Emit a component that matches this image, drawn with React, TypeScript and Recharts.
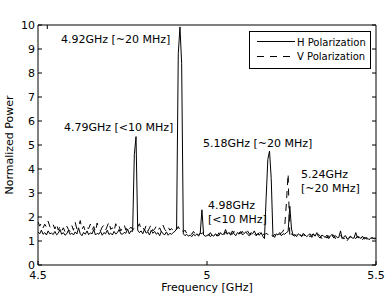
import React from "react";
import {
  LineChart,
  Line,
  XAxis,
  YAxis,
  Legend,
  ReferenceDot,
  Label,
} from "recharts";

const FONT = "DejaVu Sans";

// frequency grid in GHz (5 MHz step)
const FREQ = [
  4.5, 4.505, 4.51, 4.515, 4.52, 4.525, 4.53, 4.535, 4.54, 4.545,
  4.55, 4.555, 4.56, 4.565, 4.57, 4.575, 4.58, 4.585, 4.59, 4.595,
  4.6, 4.605, 4.61, 4.615, 4.62, 4.625, 4.63, 4.635, 4.64, 4.645,
  4.65, 4.655, 4.66, 4.665, 4.67, 4.675, 4.68, 4.685, 4.69, 4.695,
  4.7, 4.705, 4.71, 4.715, 4.72, 4.725, 4.73, 4.735, 4.74, 4.745,
  4.75, 4.755, 4.76, 4.765, 4.77, 4.775, 4.78, 4.785, 4.79, 4.795,
  4.8, 4.805, 4.81, 4.815, 4.82, 4.825, 4.83, 4.835, 4.84, 4.845,
  4.85, 4.855, 4.86, 4.865, 4.87, 4.875, 4.88, 4.885, 4.89, 4.895,
  4.9, 4.905, 4.91, 4.915, 4.92, 4.925, 4.93, 4.935, 4.94, 4.945,
  4.95, 4.955, 4.96, 4.965, 4.97, 4.975, 4.98, 4.985, 4.99, 4.995,
  5.0, 5.005, 5.01, 5.015, 5.02, 5.025, 5.03, 5.035, 5.04, 5.045,
  5.05, 5.055, 5.06, 5.065, 5.07, 5.075, 5.08, 5.085, 5.09, 5.095,
  5.1, 5.105, 5.11, 5.115, 5.12, 5.125, 5.13, 5.135, 5.14, 5.145,
  5.15, 5.155, 5.16, 5.165, 5.17, 5.175, 5.18, 5.185, 5.19, 5.195,
  5.2, 5.205, 5.21, 5.215, 5.22, 5.225, 5.23, 5.235, 5.24, 5.245,
  5.25, 5.255, 5.26, 5.265, 5.27, 5.275, 5.28, 5.285, 5.29, 5.295,
  5.3, 5.305, 5.31, 5.315, 5.32, 5.325, 5.33, 5.335, 5.34, 5.345,
  5.35, 5.355, 5.36, 5.365, 5.37, 5.375, 5.38, 5.385, 5.39, 5.395,
  5.4, 5.405, 5.41, 5.415, 5.42, 5.425, 5.43, 5.435, 5.44, 5.445,
  5.45, 5.455, 5.46, 5.465, 5.47, 5.475, 5.48, 5.485, 5.49, 5.495,
  5.5,
];

const H_POWER = [
  1.38, 1.3, 1.45, 1.28, 1.35, 1.25, 1.42, 1.3, 1.33, 1.27,
  1.4, 1.26, 1.32, 1.48, 1.28, 1.35, 1.24, 1.3, 1.45, 1.27,
  1.33, 1.25, 1.38, 1.29, 1.55, 1.3, 1.22, 1.36, 1.28, 1.42,
  1.26, 1.34, 1.3, 1.48, 1.25, 1.32, 1.28, 1.4, 1.24, 1.35,
  1.3, 1.45, 1.27, 1.33, 1.25, 1.4, 1.29, 1.35, 1.48, 1.3,
  1.28, 1.36, 1.32, 1.5, 1.3, 1.42, 1.4, 4.6, 5.35, 1.45,
  1.35, 1.42, 1.3, 1.48, 1.33, 1.38, 1.25, 1.45, 1.32, 1.4,
  1.28, 1.35, 1.22, 1.4, 1.3, 1.26, 1.38, 1.24, 1.32, 1.28,
  1.35, 1.4, 1.5, 8.8, 9.92, 8.4, 1.3, 1.22, 1.28, 1.2,
  1.25, 1.18, 1.28, 1.22, 1.3, 1.2, 1.32, 2.3, 1.25, 1.2,
  1.22, 1.28, 1.18, 1.25, 1.2, 1.3, 1.24, 1.22, 1.35, 1.26,
  1.3, 1.48, 1.28, 1.36, 1.24, 1.42, 1.3, 1.22, 1.35, 1.28,
  1.4, 1.25, 1.32, 1.38, 1.28, 1.22, 1.35, 1.3, 1.42, 1.26,
  1.3, 1.24, 1.35, 1.2, 1.1, 2.8, 4.4, 4.75, 3.6, 1.25,
  1.15, 1.3, 1.25, 1.35, 1.22, 1.3, 1.28, 1.35, 1.4, 2.45,
  1.5, 1.22, 1.28, 1.18, 1.3, 1.24, 1.2, 1.32, 1.25, 1.18,
  1.25, 1.3, 1.15, 1.28, 1.2, 1.35, 1.18, 1.12, 1.25, 1.2,
  1.15, 1.25, 1.1, 1.2, 1.28, 1.12, 1.22, 1.15, 1.15, 1.42,
  1.1, 1.18, 1.22, 1.08, 1.15, 1.2, 1.12, 1.12, 1.35, 1.15,
  1.18, 1.1, 1.2, 1.08, 1.15, 1.12, 1.05, 1.14, 1.1, 1.12,
  1.1,
];

const V_POWER = [
  1.8, 1.62, 1.75, 1.55, 1.7, 1.58, 1.82, 1.6, 1.52, 1.68,
  1.5, 1.72, 1.45, 1.6, 1.42, 1.55, 1.38, 1.62, 1.48, 1.4,
  1.65, 1.45, 1.78, 1.5, 1.58, 1.85, 1.48, 1.62, 1.4, 1.55,
  1.52, 1.7, 1.45, 1.6, 1.38, 1.75, 1.5, 1.42, 1.58, 1.66,
  1.45, 1.62, 1.8, 1.48, 1.55, 1.4, 1.72, 1.5, 1.6, 1.42,
  1.55, 1.68, 1.45, 1.62, 1.5, 1.58, 1.48, 1.52, 1.45, 1.6,
  1.72, 1.5, 1.58, 1.45, 1.65, 1.4, 1.55, 1.68, 1.42, 1.5,
  1.62, 1.45, 1.55, 1.38, 1.66, 1.48, 1.4, 1.58, 1.45, 1.52,
  1.42, 1.55, 1.48, 1.6, 1.45, 1.52, 1.38, 1.45, 1.32, 1.4,
  1.35, 1.28, 1.4, 1.3, 1.36, 1.25, 1.33, 1.3, 1.38, 1.27,
  1.3, 1.24, 1.35, 1.22, 1.32, 1.28, 1.2, 1.34, 1.25, 1.3,
  1.25, 1.38, 1.3, 1.45, 1.32, 1.28, 1.4, 1.3, 1.26, 1.36,
  1.32, 1.4, 1.26, 1.35, 1.42, 1.3, 1.25, 1.38, 1.3, 1.22,
  1.28, 1.35, 1.22, 1.3, 1.25, 1.32, 1.28, 1.2, 1.3, 1.18,
  1.28, 1.2, 1.32, 1.25, 1.35, 1.4, 1.6, 2.6, 3.8, 1.15,
  1.3, 1.25, 1.2, 1.28, 1.22, 1.3, 1.18, 1.26, 1.22, 1.3,
  1.22, 1.18, 1.25, 1.3, 1.15, 1.22, 1.28, 1.2, 1.1, 1.24,
  1.2, 1.12, 1.22, 1.05, 1.18, 1.25, 1.1, 1.2, 1.15, 1.22,
  1.15, 1.08, 1.2, 1.02, 1.12, 1.18, 1.05, 1.15, 1.1, 1.2,
  1.12, 1.2, 1.05, 1.15, 1.1, 1.08, 1.18, 1.1, 1.15, 1.08,
  1.12,
];

const X_TICKS = [4.5, 5, 5.5];
const Y_TICKS = [0, 1, 2, 3, 4, 5, 6, 7, 8, 9, 10];

// annotation text, anchored at the start of the first line (GHz, power)
const NOTES = [
  { f: 4.568, p: 9.42, lines: ["4.92GHz [~20 MHz]"] },
  { f: 4.577, p: 5.75, lines: ["4.79GHz [<10 MHz]"] },
  { f: 4.988, p: 5.1, lines: ["5.18GHz [~20 MHz]"] },
  { f: 5.003, p: 2.5, lines: ["4.98GHz", "[<10 MHz]"] },
  { f: 5.278, p: 3.79, lines: ["5.24GHz", "[~20 MHz]"] },
];

const data = FREQ.map((f, i) => ({ f, h: H_POWER[i], v: V_POWER[i] }));

const tickStyle = { fill: "#000", fontSize: 11, fontFamily: FONT };

function LegendBox() {
  return (
    <svg width={122} height={38} style={{ display: "block" }}>
      <rect x={0.5} y={0.5} width={121} height={37} fill="#fff" stroke="#000" />
      <line x1={8} x2={46} y1={10.5} y2={10.5} stroke="#000" />
      <line x1={8} x2={46} y1={25.5} y2={25.5} stroke="#000" strokeDasharray="7 6" />
      <text x={48} y={11} dominantBaseline="central" fontSize={10} fontFamily={FONT}>
        H Polarization
      </text>
      <text x={48} y={25} dominantBaseline="central" fontSize={10} fontFamily={FONT}>
        V Polarization
      </text>
    </svg>
  );
}

export default function App() {
  return (
    <div style={{ position: "absolute", left: 0, top: 0, background: "#fff" }}>
      <LineChart
        width={390}
        height={298}
        data={data}
        margin={{ top: 24, right: 13, bottom: 15, left: 18 }}
      >
        <XAxis
          type="number"
          dataKey="f"
          domain={[4.5, 5.5]}
          ticks={X_TICKS}
          allowDataOverflow
          height={18}
          tickSize={-4}
          tickMargin={10}
          tick={tickStyle}
          axisLine={{ stroke: "#000" }}
          tickLine={{ stroke: "#000" }}
        >
          <Label
            content={({ viewBox }: any) => (
              <text
                x={viewBox.x + viewBox.width / 2}
                y={287}
                textAnchor="middle"
                dominantBaseline="central"
                fontSize={11}
                fontFamily={FONT}
              >
                Frequency [GHz]
              </text>
            )}
          />
        </XAxis>
        <XAxis
          xAxisId="top"
          orientation="top"
          type="number"
          domain={[4.5, 5.5]}
          ticks={X_TICKS}
          allowDataOverflow
          height={1}
          tickSize={-4}
          tickFormatter={() => ""}
          axisLine={{ stroke: "#000" }}
          tickLine={{ stroke: "#000" }}
        />
        <YAxis
          type="number"
          domain={[0, 10]}
          ticks={Y_TICKS}
          interval={0}
          allowDataOverflow
          width={20}
          tickSize={-4}
          tickMargin={7}
          tick={tickStyle}
          axisLine={{ stroke: "#000" }}
          tickLine={{ stroke: "#000" }}
        >
          <Label
            content={({ viewBox }: any) => {
              const cx = 9;
              const cy = viewBox.y + viewBox.height / 2;
              return (
                <text
                  x={cx}
                  y={cy}
                  transform={`rotate(-90 ${cx} ${cy})`}
                  textAnchor="middle"
                  dominantBaseline="central"
                  fontSize={11}
                  fontFamily={FONT}
                >
                  Normalized Power
                </text>
              );
            }}
          />
        </YAxis>
        <YAxis
          yAxisId="right"
          orientation="right"
          type="number"
          domain={[0, 10]}
          ticks={Y_TICKS}
          interval={0}
          allowDataOverflow
          width={1}
          tickSize={-4}
          tickFormatter={() => ""}
          axisLine={{ stroke: "#000" }}
          tickLine={{ stroke: "#000" }}
        />
        <Line
          type="linear"
          dataKey="v"
          stroke="#000"
          strokeWidth={1}
          strokeDasharray="7 6"
          dot={false}
          activeDot={false}
          isAnimationActive={false}
        />
        <Line
          type="linear"
          dataKey="h"
          stroke="#000"
          strokeWidth={1}
          dot={false}
          activeDot={false}
          isAnimationActive={false}
        />
        {NOTES.map((n) => (
          <ReferenceDot
            key={n.lines[0]}
            x={n.f}
            y={n.p}
            r={0}
            ifOverflow="visible"
            shape={(p: any) => (
              <text x={p.cx} y={p.cy} fontSize={11} fontFamily={FONT} fill="#000" dominantBaseline="central">
                {n.lines.map((t, i) => (
                  <tspan key={t} x={p.cx} dy={i === 0 ? 0 : 14}>
                    {t}
                  </tspan>
                ))}
              </text>
            )}
          />
        ))}
        <Legend
          layout="horizontal"
          verticalAlign="middle"
          align="center"
          wrapperStyle={{ left: 249, top: 31, width: 122, height: 38 }}
          content={() => <LegendBox />}
        />
      </LineChart>
    </div>
  );
}
